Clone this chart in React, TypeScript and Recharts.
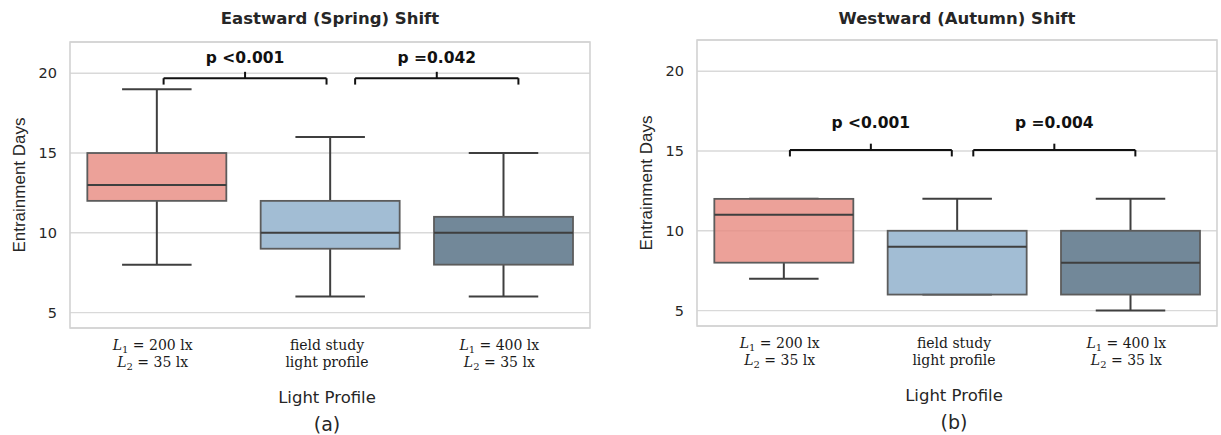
import React from "react";
import {
  ComposedChart,
  Bar,
  XAxis,
  YAxis,
  CartesianGrid,
  ReferenceLine,
  ReferenceArea,
  ReferenceDot,
  Label,
} from "recharts";

// categories on the x axis
const categories = ["L1 200", "field", "L1 400"];
const tickLabels = [
  { math: true, top: "200 lx", bottom: "35 lx" },
  { math: false, top: "field study", bottom: "light profile" },
  { math: true, top: "400 lx", bottom: "35 lx" },
];

// eastward (spring) box stats
const springLow = [8, 6, 6];
const springQ1 = [12, 9, 8];
const springMedian = [13, 10, 10];
const springQ3 = [15, 12, 11];
const springHigh = [19, 16, 15];

// westward (autumn) box stats
const autumnLow = [7, 6, 5];
const autumnQ1 = [8, 6, 6];
const autumnMedian = [11, 9, 8];
const autumnQ3 = [12, 10, 10];
const autumnHigh = [12, 12, 12];

const yTicks = [5, 10, 15, 20];
const yDomain: [number, number] = [4.03, 21.96];

// significance brackets, in data units (x = category index)
const springBrackets = [
  { from: 0.04, to: 0.98, y: 19.69, text: "p <0.001", textY: 20.95 },
  { from: 1.145, to: 2.087, y: 19.69, text: "p =0.042", textY: 20.95 },
];
const autumnBrackets = [
  { from: 0.036, to: 0.97, y: 15.06, text: "p <0.001", textY: 16.74 },
  { from: 1.094, to: 2.029, y: 15.06, text: "p =0.004", textY: 16.74 },
];

const boxColors = ["rgba(231,138,128,0.8)", "rgba(139,172,201,0.8)", "rgba(79,106,128,0.8)"];
const TEXT = "#262626";

type Bracket = { from: number; to: number; y: number; text: string; textY: number };

const BoxShape = (props: any) => {
  const { x, y, width, height, payload, index } = props;
  const top = Math.min(y, y + height);
  const h = Math.abs(height);
  const { q1, q3, low, high, median } = payload;
  const ppu = h / (q3 - q1);
  const py = (v: number) => top + (q3 - v) * ppu;
  const cx = x + width / 2;
  const cap = width / 4;
  const line = { stroke: "#3f3f3f", strokeWidth: 2 };
  return (
    <g>
      <line x1={cx} x2={cx} y1={py(high)} y2={py(q3)} {...line} />
      <line x1={cx} x2={cx} y1={py(q1)} y2={py(low)} {...line} />
      <line x1={cx - cap} x2={cx + cap} y1={py(high)} y2={py(high)} {...line} />
      <line x1={cx - cap} x2={cx + cap} y1={py(low)} y2={py(low)} {...line} />
      <rect x={x} y={top} width={width} height={h} fill={boxColors[index]} stroke="#5c5c5c" strokeWidth={1.8} />
      <line x1={x} x2={x + width} y1={py(median)} y2={py(median)} {...line} />
    </g>
  );
};

const XTick = (props: any) => {
  const { x, y, payload } = props;
  const lab = tickLabels[categories.indexOf(payload.value)];
  const style = { fontFamily: "DejaVu Serif", fontSize: 14, fill: "#1a1a1a" };
  if (!lab.math) {
    return (
      <g>
        <text x={x - 3} y={y + 22} textAnchor="middle" {...style}>{lab.top}</text>
        <text x={x - 3} y={y + 38.5} textAnchor="middle" {...style}>{lab.bottom}</text>
      </g>
    );
  }
  const mathLine = (sub: string, rest: string, dy: number) => (
    <text x={x - 4} y={y + dy} textAnchor="middle" {...style}>
      <tspan fontStyle="italic">L</tspan>
      <tspan dy={3} fontSize={10}>{sub}</tspan>
      <tspan dy={-3}>{" = " + rest}</tspan>
    </text>
  );
  return (
    <g>
      {mathLine("1", lab.top, 22)}
      {mathLine("2", lab.bottom, 38.5)}
    </g>
  );
};

function Panel({
  title,
  letter,
  low,
  q1,
  median,
  q3,
  high,
  brackets,
  width,
  marginTop,
  marginRight,
  yAxisWidth,
}: {
  title: string;
  letter: string;
  low: number[];
  q1: number[];
  median: number[];
  q3: number[];
  high: number[];
  brackets: Bracket[];
  width: number;
  marginTop: number;
  marginRight: number;
  yAxisWidth: number;
}) {
  const data = categories.map((name, i) => ({
    name,
    pos: i,
    box: [q1[i], q3[i]],
    low: low[i],
    q1: q1[i],
    median: median[i],
    q3: q3[i],
    high: high[i],
  }));
  const plotWidth = width - yAxisWidth - marginRight;
  const bracketLine = { xAxisId: "num", stroke: "#111", strokeWidth: 2, ifOverflow: "visible" as const };

  return (
    <div style={{ position: "relative", width, height: 435 }}>
      <div
        style={{
          position: "absolute",
          left: yAxisWidth,
          width: plotWidth,
          top: 8,
          lineHeight: "22px",
          textAlign: "center",
          fontFamily: "DejaVu Sans",
          fontWeight: "bold",
          fontSize: 16.5,
          color: TEXT,
        }}
      >
        {title}
      </div>
      <ComposedChart
        width={width}
        height={435}
        data={data}
        margin={{ top: marginTop, right: marginRight, bottom: 0, left: 0 }}
        barCategoryGap="10%"
      >
        <CartesianGrid vertical={false} stroke="#d9d9d9" strokeWidth={1.3} />
        <XAxis
          dataKey="name"
          type="category"
          height={435 - marginTop - 286}
          axisLine={false}
          tickLine={false}
          tickSize={0}
          tickMargin={0}
          tick={<XTick />}
          interval={0}
          label={
            <Label
              content={({ viewBox }: any) => {
                const cx = viewBox.x + viewBox.width / 2;
                return (
                  <g fill={TEXT} fontFamily="DejaVu Sans" textAnchor="middle">
                    <text x={cx - 3} y={viewBox.y + 69} fontSize={16.5} dominantBaseline="central">
                      Light Profile
                    </text>
                    <text x={cx - 3} y={viewBox.y + 96} fontSize={19} dominantBaseline="central">
                      {letter}
                    </text>
                  </g>
                );
              }}
            />
          }
        />
        <XAxis xAxisId="num" dataKey="pos" type="number" domain={[-0.5, 2.5]} allowDataOverflow hide />
        <YAxis
          type="number"
          domain={yDomain}
          ticks={yTicks}
          allowDataOverflow
          width={yAxisWidth}
          axisLine={false}
          tickLine={false}
          tickSize={0}
          tickMargin={13}
          tick={{ fill: TEXT, fontSize: 14.5, fontFamily: "DejaVu Sans" }}
          label={
            <Label
              content={({ viewBox }: any) => {
                const lx = viewBox.x + viewBox.width - 51;
                const ly = viewBox.y + viewBox.height / 2;
                return (
                  <text
                    x={lx}
                    y={ly}
                    transform={`rotate(-90, ${lx}, ${ly})`}
                    textAnchor="middle"
                    dominantBaseline="central"
                    fontFamily="Liberation Sans"
                    fontSize={17}
                    fill={TEXT}
                  >
                    Entrainment Days
                  </text>
                );
              }}
            />
          }
        />
        <ReferenceArea
          xAxisId="num"
          x1={-0.5}
          x2={2.5}
          y1={yDomain[0]}
          y2={yDomain[1]}
          fill="none"
          stroke="#d2d2d2"
          strokeWidth={1.6}
          ifOverflow="visible"
        />
        <Bar dataKey="box" shape={<BoxShape />} isAnimationActive={false} />
        {brackets.map((b, i) => (
          <React.Fragment key={i}>
            <ReferenceLine {...bracketLine} segment={[{ x: b.from, y: b.y }, { x: b.to, y: b.y }]} />
            <ReferenceLine {...bracketLine} segment={[{ x: b.from, y: b.y - 0.4 }, { x: b.from, y: b.y }]} />
            <ReferenceLine {...bracketLine} segment={[{ x: b.to, y: b.y - 0.4 }, { x: b.to, y: b.y }]} />
            <ReferenceLine
              {...bracketLine}
              segment={[{ x: (b.from + b.to) / 2, y: b.y }, { x: (b.from + b.to) / 2, y: b.y + 0.4 }]}
            />
            <ReferenceDot
              xAxisId="num"
              x={(b.from + b.to) / 2}
              y={b.textY}
              r={1}
              ifOverflow="visible"
              shape={(p: any) => (
                <text
                  x={p.cx}
                  y={p.cy}
                  textAnchor="middle"
                  dominantBaseline="central"
                  fontFamily="DejaVu Sans"
                  fontWeight="bold"
                  fontSize={15.5}
                  fill="#111"
                >
                  {b.text}
                </text>
              )}
            />
          </React.Fragment>
        ))}
      </ComposedChart>
    </div>
  );
}

export default function App() {
  return (
    <div style={{ position: "absolute", left: 0, top: 0, width: 1221, height: 435, background: "#fff" }}>
      <div style={{ position: "absolute", left: 0, top: 0 }}>
        <Panel
          title="Eastward (Spring) Shift"
          letter="(a)"
          low={springLow}
          q1={springQ1}
          median={springMedian}
          q3={springQ3}
          high={springHigh}
          brackets={springBrackets}
          width={610}
          marginTop={42}
          marginRight={20}
          yAxisWidth={70}
        />
      </div>
      <div style={{ position: "absolute", left: 610, top: 0 }}>
        <Panel
          title="Westward (Autumn) Shift"
          letter="(b)"
          low={autumnLow}
          q1={autumnQ1}
          median={autumnMedian}
          q3={autumnQ3}
          high={autumnHigh}
          brackets={autumnBrackets}
          width={611}
          marginTop={40}
          marginRight={4}
          yAxisWidth={87}
        />
      </div>
    </div>
  );
}
